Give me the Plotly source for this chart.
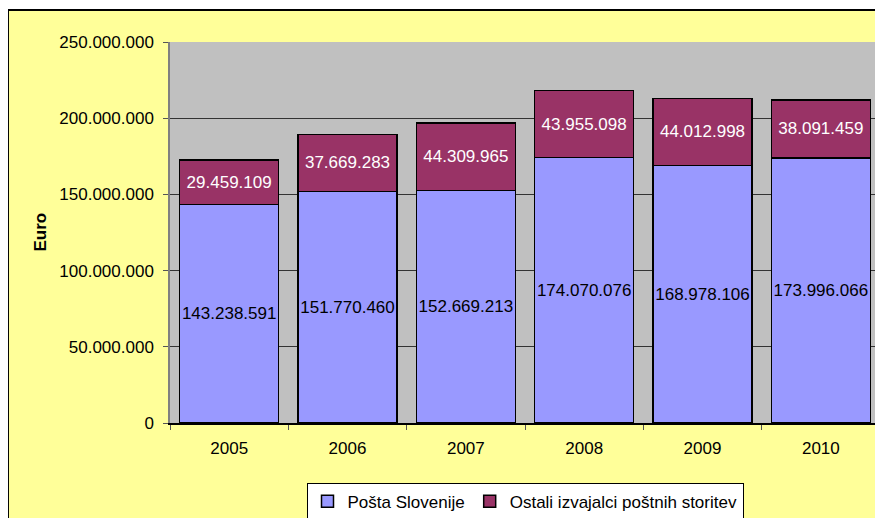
import plotly.graph_objects as go

years = ["2005", "2006", "2007", "2008", "2009", "2010"]
posta = [143238591, 151770460, 152669213, 174070076, 168978106, 173996066]
ostali = [29459109, 37669283, 44309965, 43955098, 44012998, 38091459]

FONT = "Liberation Sans, Arial, sans-serif"
FS = 17

fig = go.Figure()
fig.add_trace(go.Bar(
    x=years, y=posta, name="Pošta Slovenije",
    marker=dict(color="#9999FF", line=dict(color="black", width=1.5)),
    texttemplate="%{y:,d}", textposition="inside", insidetextanchor="middle",
    textangle=0, constraintext="none",
    textfont=dict(color="black", size=FS, family=FONT),
))
fig.add_trace(go.Bar(
    x=years, y=ostali, name="Ostali izvajalci poštnih storitev",
    marker=dict(color="#993366", line=dict(color="black", width=1.5)),
    texttemplate="%{y:,d}", textposition="inside", insidetextanchor="middle",
    textangle=0, constraintext="none",
    textfont=dict(color="white", size=FS, family=FONT),
))

# white strip above the chart frame plus the frame's top/left border
fig.add_shape(type="rect", xref="paper", yref="paper",
              x0=-0.5, x1=1.5, y0=1.084, y1=1.3,
              fillcolor="white", line_width=0)
fig.add_shape(type="line", xref="paper", yref="paper",
              x0=-0.2282, x1=1.5, y0=1.084, y1=1.084,
              line=dict(color="black", width=2))
fig.add_shape(type="line", xref="paper", yref="paper",
              x0=-0.2282, x1=-0.2282, y0=-0.5, y1=1.084,
              line=dict(color="black", width=2))

fig.add_annotation(text="<b>Euro</b>", xref="paper", yref="paper",
                   x=-0.183, y=0.5, xanchor="center", yanchor="middle",
                   textangle=-90, showarrow=False,
                   font=dict(size=FS, color="black", family=FONT))

# page body has an 8px margin, so the figure is shrunk by that much
fig.update_layout(
    width=875, height=510,
    margin=dict(l=162, r=3, t=34, b=95, autoexpand=False),
    barmode="stack", bargap=0.163,
    separators=",.",
    paper_bgcolor="#FFFF99", plot_bgcolor="#C0C0C0",
    font=dict(family=FONT, size=FS, color="black"),
    showlegend=True,
    legend=dict(orientation="h", x=0.5, xanchor="center", y=-0.157,
                yanchor="top", bgcolor="white", bordercolor="black",
                borderwidth=1, font=dict(size=FS), traceorder="normal",
                itemwidth=30),
)
fig.update_xaxes(
    showline=True, linecolor="black", linewidth=1.5, mirror=False,
    ticks="outside", ticklen=5, tickcolor="#555", tickson="boundaries",
    showgrid=False, ticklabelstandoff=9,
)
fig.update_yaxes(
    range=[0, 250000000], dtick=50000000, tickformat=",d",
    showline=True, linecolor="#808080", linewidth=1.5, mirror=True,
    ticks="outside", ticklen=5, tickcolor="#555", ticklabelstandoff=6,
    showgrid=True, gridcolor="#333", gridwidth=1, zeroline=False,
)

fig.write_html("out.html")
